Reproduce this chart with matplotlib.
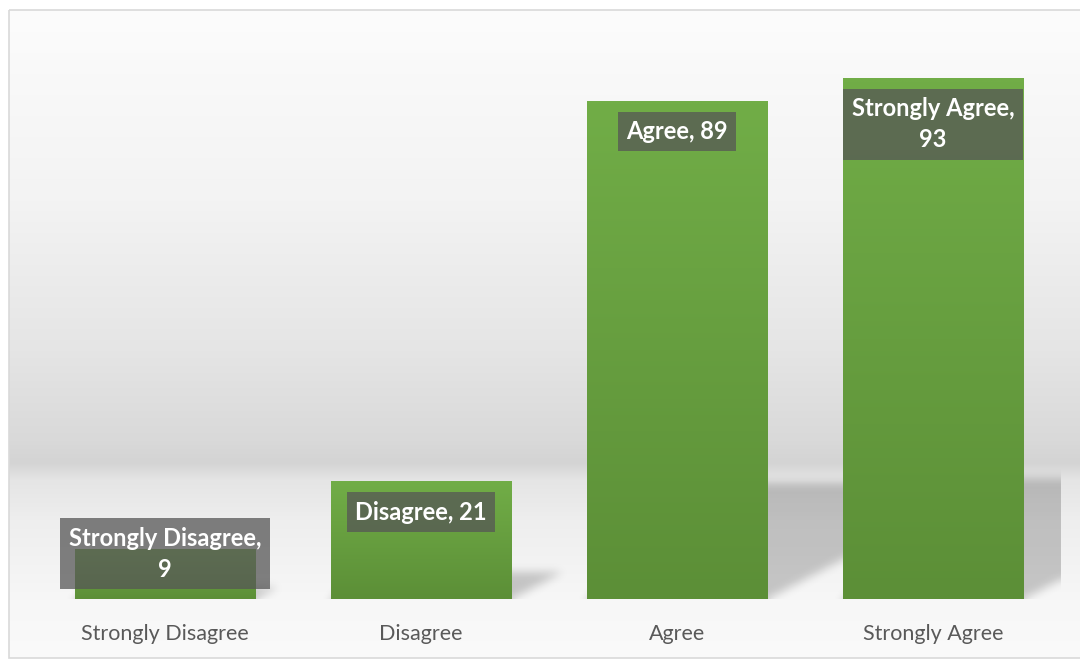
import numpy as np
import matplotlib
matplotlib.use('Agg')
import matplotlib.pyplot as plt
from matplotlib.path import Path
from matplotlib.patches import Rectangle
from matplotlib.colors import to_rgb

# survey answers
categories = ['Strongly Disagree', 'Disagree', 'Agree', 'Strongly Agree']
counts = [9, 21, 89, 93]

W, H, DPI = 1080, 661, 100
plt.rcParams['font.family'] = ['Lato', 'DejaVu Sans']

fig = plt.figure(figsize=(W / DPI, H / DPI), dpi=DPI)

# chart area backdrop: vertical grey gradient with a soft "floor" line
bg_ax = fig.add_axes([0, 0, 1, 1], zorder=0)
bg_ax.set_axis_off()
stops_y = [0, 10, 200, 350, 440, 462, 480, 520, 600, 661]
stops_v = [252, 252, 243, 229, 217, 212, 229, 238, 247, 250]
rows = np.interp(np.arange(H), stops_y, stops_v) / 255.0
bg = np.repeat(rows[:, None], W, axis=1)
bg_img = np.dstack([bg, bg, bg])
bg_img[:10, :, :] = 1.0
bg_img[:, :9, :] = 1.0
bg_img[658:, :, :] = 1.0
bg_ax.imshow(bg_img, extent=(0, W, H, 0), aspect='auto', interpolation='bilinear')
bg_ax.add_patch(Rectangle((9, 10), W + 10, 648, fill=False, ec='#d9d9d9', lw=1.2))
bg_ax.set_xlim(0, W)
bg_ax.set_ylim(H, 0)

# plot area in pixels
px_l, px_b, px_w, px_h = 37, 62, 1024, 560
ax = fig.add_axes([px_l / W, px_b / H, px_w / W, px_h / H], zorder=1)
ax.patch.set_alpha(0)
ymax = 100
x = np.arange(len(categories))
bar_w = 0.707

# perspective shadows, rasterised then blurred
sx = px_w / len(categories)
sy = px_h / ymax
gx, gy = np.meshgrid(np.arange(px_w) + 0.5, np.arange(px_h) + 0.5)
pts = np.column_stack([gx.ravel(), gy.ravel()])
mask = np.zeros(px_w * px_h)
for i, v in enumerate(counts):
    b0 = (i + 0.5 - bar_w / 2) * sx
    b1 = (i + 0.5 + bar_w / 2) * sx
    hp = v * sy
    poly = Path([(b0, 0), (b1, 0), (b1 + 0.44 * hp, 0.232 * hp),
                 (b0 + 0.30 * hp, 0.232 * hp), (b0, 0)])
    mask = np.maximum(mask, poly.contains_points(pts).astype(float))
mask = mask.reshape(px_h, px_w)

def blur(a, sigma):
    r = int(3 * sigma)
    k = np.exp(-0.5 * (np.arange(-r, r + 1) / sigma) ** 2)
    k /= k.sum()
    out = np.zeros_like(a)
    p = np.pad(a, ((0, 0), (r, r)), mode='edge')
    for j, kv in enumerate(k):
        out += kv * p[:, j:j + a.shape[1]]
    p = np.pad(out, ((r, r), (0, 0)), mode='edge')
    out2 = np.zeros_like(a)
    for j, kv in enumerate(k):
        out2 += kv * p[j:j + a.shape[0], :]
    return out2

mask = blur(mask, 4.5)
shadow = np.zeros((px_h, px_w, 4))
shadow[..., 3] = mask * 0.2
ax.imshow(shadow, extent=(-0.5, len(categories) - 0.5, 0, ymax), origin='lower',
          aspect='auto', zorder=1, interpolation='bilinear')

# green bars with a top-to-bottom gradient
bars = ax.bar(x, counts, width=bar_w, color='#67a23f', zorder=2, linewidth=0)
top_c = np.array(to_rgb('#71ad47'))
bot_c = np.array(to_rgb('#5c8f37'))
t = np.linspace(0, 1, 64)[:, None]
grad = (bot_c[None, :] * (1 - t) + top_c[None, :] * t)[:, None, :]
for rect, v in zip(bars, counts):
    im = ax.imshow(grad, extent=(rect.get_x(), rect.get_x() + rect.get_width(), 0, v),
                   origin='lower', aspect='auto', zorder=2.5, interpolation='bilinear')
    im.set_clip_path(rect)

# data labels: "Category, value" in dark translucent boxes
fs = 17
pad = 0.35
pad_px = pad * fs * DPI / 72
for i, (c, v) in enumerate(zip(categories, counts)):
    wrap = ' ' in c
    label = f'{c},\n{v}' if wrap else f'{c}, {v}'
    box_h = (72 if wrap else 40)
    box = dict(boxstyle=f'square,pad={pad}', fc='#565656', ec='none', alpha=0.75)
    if v * sy < 11 + box_h + 10:
        ax.annotate(label, xy=(i, 0), xytext=(0, (10 + pad_px) * 72 / DPI),
                    textcoords='offset points', ha='center', va='bottom',
                    color='white', fontsize=fs, fontweight='bold',
                    linespacing=1.42, bbox=box, zorder=4)
    else:
        ax.annotate(label, xy=(i, v), xytext=(0, -(11 + pad_px) * 72 / DPI),
                    textcoords='offset points', ha='center', va='top',
                    color='white', fontsize=fs, fontweight='bold',
                    linespacing=1.42, bbox=box, zorder=4)

ax.set_xlim(-0.5, len(categories) - 0.5)
ax.set_ylim(0, ymax)
ax.set_xticks(x)
ax.set_xticklabels(categories, fontsize=15.5, color='#595959')
ax.tick_params(axis='x', length=0, pad=18)
ax.set_yticks([])
for s in ax.spines.values():
    s.set_visible(False)

fig.savefig('out.png', dpi=DPI)
